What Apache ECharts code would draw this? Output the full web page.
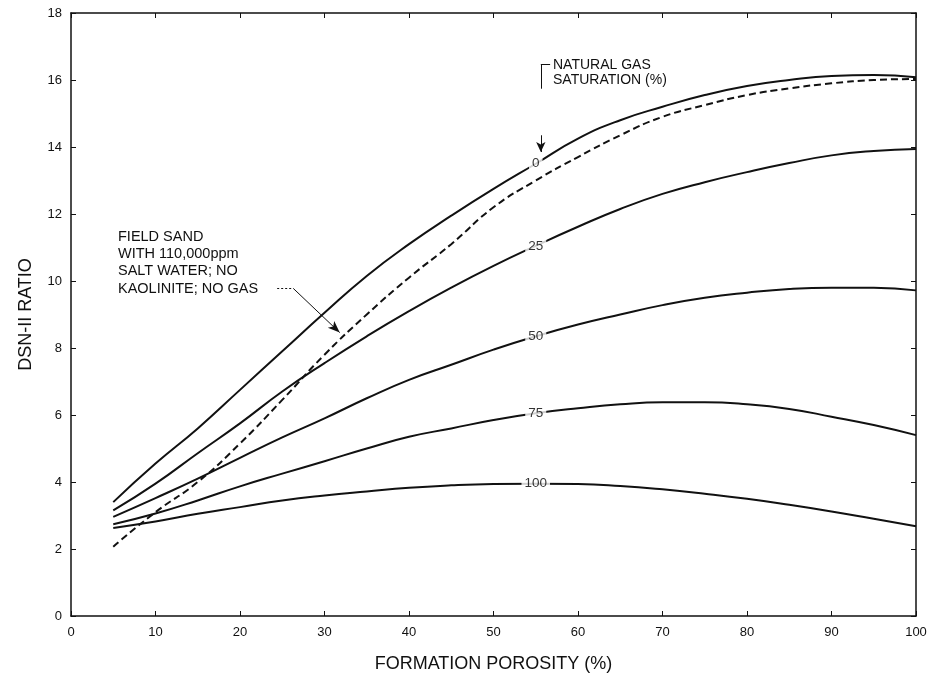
<!DOCTYPE html>
<html>
<head>
<meta charset="utf-8">
<script src="https://cdn.jsdelivr.net/npm/echarts@6/dist/echarts.min.js"></script>
<style>
  html, body { margin: 0; padding: 0; background: #fff; }
  #chart { width: 933px; height: 678px; }
</style>
</head>
<body>
<div id="chart"></div>
<script>
var porosity = [5, 10, 15, 20, 25, 30, 35, 40, 45, 50, 55, 60, 65, 70, 75, 80, 85, 90, 95, 100];

// DSN-II ratio per natural gas saturation
var sat0   = [3.4, 4.55, 5.6, 6.75, 7.9, 9.05, 10.15, 11.1, 11.95, 12.75, 13.5, 14.25, 14.8, 15.2, 15.55, 15.82, 16.0, 16.12, 16.15, 16.08];
var sat25  = [3.15, 3.95, 4.86, 5.75, 6.7, 7.55, 8.35, 9.1, 9.8, 10.45, 11.05, 11.62, 12.15, 12.6, 12.95, 13.25, 13.52, 13.75, 13.88, 13.94];
var sat50  = [2.96, 3.52, 4.1, 4.72, 5.33, 5.9, 6.5, 7.05, 7.5, 7.95, 8.35, 8.7, 9.0, 9.28, 9.5, 9.65, 9.76, 9.8, 9.8, 9.72];
var sat75  = [2.74, 3.06, 3.45, 3.87, 4.25, 4.62, 5.0, 5.35, 5.6, 5.85, 6.05, 6.2, 6.32, 6.38, 6.38, 6.32, 6.18, 5.95, 5.7, 5.4];
var sat100 = [2.63, 2.82, 3.05, 3.25, 3.45, 3.6, 3.72, 3.83, 3.9, 3.94, 3.95, 3.94, 3.88, 3.78, 3.65, 3.5, 3.32, 3.12, 2.9, 2.68];
// field sand, 110,000ppm salt water, no kaolinite, no gas (dashed)
var fieldSand = [2.07, 3.1, 4.0, 5.15, 6.45, 7.8, 9.0, 10.1, 11.1, 12.2, 13.0, 13.7, 14.35, 14.9, 15.25, 15.55, 15.75, 15.9, 16.0, 16.03];

var satNames = ["0", "25", "50", "75", "100"];
var satCurves = [sat0, sat25, sat50, sat75, sat100];
var labelIndex = 10; // curve labels sit at 55% porosity

var xTicks = { min: 0, max: 100, interval: 10 };
var yTicks = { min: 0, max: 18, interval: 2 };

// annotation leaders, in data units
var sandLeader = [[24.4, 9.78], [26.3, 9.78]];
var sandArrow = [[26.3, 9.78], [31.8, 8.46]];
var gasArrow = [[55.6, 14.35], [55.6, 13.85]];
var gasBracket = [[56.7, 16.46], [55.6, 16.46], [55.6, 15.74]];

var FONT = "'Liberation Sans', Arial, sans-serif";
var INK = "#111";

function pairs(ys) {
    return porosity.map(function (x, i) { return [x, ys[i]]; });
}

var series = satCurves.map(function (ys, k) {
    return {
        name: satNames[k] + "%",
        type: "line",
        data: pairs(ys),
        smooth: true,
        showSymbol: false,
        lineStyle: { color: INK, width: 2 },
        z: 2
    };
});

series.push({
    name: "field sand",
    type: "line",
    data: pairs(fieldSand),
    smooth: true,
    showSymbol: false,
    lineStyle: { color: INK, width: 2, type: [7, 4] },
    z: 2,
    markLine: {
        silent: true,
        animation: false,
        label: { show: false },
        symbol: ["none", "none"],
        lineStyle: { color: INK, width: 1, type: "solid" },
        data: [
            [{ coord: sandLeader[0], lineStyle: { type: [2, 2] } }, { coord: sandLeader[1] }],
            [{ coord: sandArrow[0], symbol: "none" }, { coord: sandArrow[1], symbol: "arrow", symbolSize: [7, 12] }],
            [{ coord: gasArrow[0], symbol: "none" }, { coord: gasArrow[1], symbol: "arrow", symbolSize: [7, 10] }],
            [{ coord: gasBracket[0] }, { coord: gasBracket[1] }],
            [{ coord: gasBracket[1] }, { coord: gasBracket[2] }]
        ]
    }
});

// curve labels, white boxes breaking each line
series.push({
    type: "scatter",
    data: satCurves.map(function (ys, k) {
        return { value: [porosity[labelIndex], ys[labelIndex]], name: satNames[k] };
    }),
    symbolSize: 0,
    silent: true,
    z: 5,
    label: {
        show: true,
        position: "inside",
        formatter: "{b}",
        color: "#000",
        textBorderWidth: 0,
        fontFamily: FONT,
        fontSize: 13.5,
        backgroundColor: "#fff",
        padding: [1, 3]
    }
});

var tickStyle = { show: true, inside: true, length: 5, lineStyle: { color: INK, width: 1 } };
var lineStyleAxis = { show: true, onZero: false, lineStyle: { color: INK, width: 1.5 } };

var option = {
    animation: false,
    backgroundColor: "#fff",
    grid: { left: 71, right: 17, top: 13, bottom: 61 },
    xAxis: [{
        type: "value",
        min: xTicks.min, max: xTicks.max, interval: xTicks.interval,
        name: "FORMATION POROSITY (%)",
        nameLocation: "middle",
        nameGap: 39,
        nameTextStyle: { fontFamily: FONT, fontSize: 18, color: INK },
        axisLine: lineStyleAxis,
        axisTick: tickStyle,
        splitLine: { show: false },
        axisLabel: { fontFamily: FONT, fontSize: 13, color: INK, margin: 10 }
    }, {
        type: "value",
        position: "top",
        min: xTicks.min, max: xTicks.max, interval: xTicks.interval,
        axisLine: lineStyleAxis,
        axisTick: tickStyle,
        splitLine: { show: false },
        axisLabel: { show: false }
    }],
    yAxis: [{
        type: "value",
        min: yTicks.min, max: yTicks.max, interval: yTicks.interval,
        name: "DSN-II RATIO",
        nameLocation: "middle",
        nameGap: 36,
        nameTextStyle: { fontFamily: FONT, fontSize: 18, color: INK },
        axisLine: lineStyleAxis,
        axisTick: tickStyle,
        splitLine: { show: false },
        axisLabel: { fontFamily: FONT, fontSize: 13, color: INK, margin: 9 }
    }, {
        type: "value",
        position: "right",
        min: yTicks.min, max: yTicks.max, interval: yTicks.interval,
        axisLine: lineStyleAxis,
        axisTick: tickStyle,
        splitLine: { show: false },
        axisLabel: { show: false }
    }],
    graphic: [{
        type: "text",
        left: 553, top: 58,
        style: {
            text: "NATURAL GAS\nSATURATION (%)",
            font: "14px " + FONT,
            lineHeight: 15,
            fill: INK
        }
    }, {
        type: "text",
        left: 118, top: 228,
        style: {
            text: "FIELD SAND\nWITH 110,000ppm\nSALT WATER; NO\nKAOLINITE; NO GAS",
            font: "14.5px " + FONT,
            lineHeight: 17.3,
            fill: INK
        }
    }],
    series: series
};

var chart = echarts.init(document.getElementById("chart"));
chart.setOption(option);
window.addEventListener("resize", function () { chart.resize(); });
</script>
</body>
</html>
